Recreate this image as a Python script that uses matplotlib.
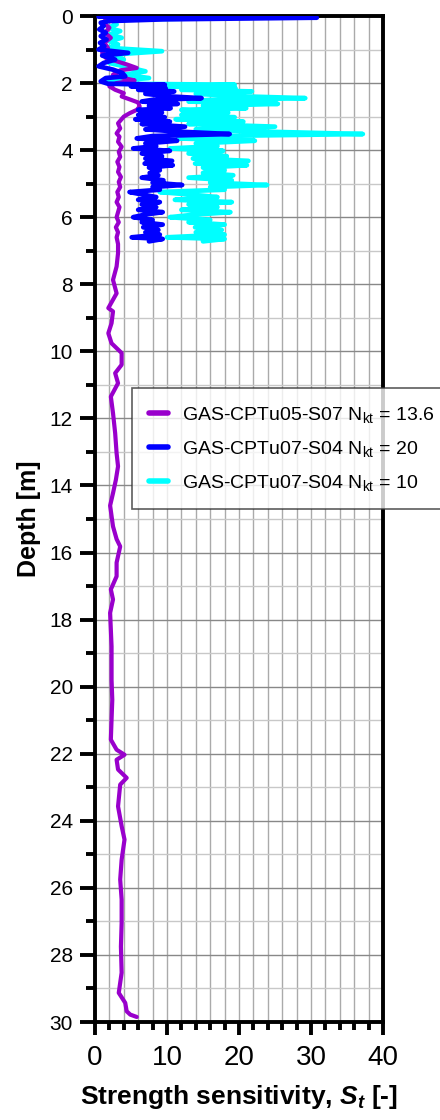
import matplotlib
matplotlib.use('Agg')
from matplotlib import pyplot as plt
from matplotlib.ticker import MultipleLocator

plt.rcParams['font.family'] = ['Liberation Sans', 'DejaVu Sans']
plt.rcParams['mathtext.fontset'] = 'custom'
plt.rcParams['mathtext.rm'] = 'Liberation Sans'
plt.rcParams['mathtext.it'] = 'Liberation Sans:italic:bold'
plt.rcParams['mathtext.bf'] = 'Liberation Sans:bold'

# GAS-CPTu05-S07, Nkt = 13.6
depth_s07 = [0.10, 0.20, 0.35, 0.50, 0.65, 0.80, 0.95, 1.10, 1.25, 1.35, 1.45, 1.55, 1.62, 1.75,
             1.85, 1.92, 2.00, 2.10, 2.20, 2.30, 2.40, 2.50, 2.58, 2.70, 2.80, 2.90, 3.00, 3.10,
             3.20, 3.35, 3.50, 3.60, 3.75, 3.90, 4.05, 4.20, 4.35, 4.50, 4.65, 4.80, 4.95, 5.10,
             5.25, 5.40, 5.55, 5.70, 5.85, 6.00, 6.15, 6.30, 6.45, 6.60, 6.80, 7.07, 7.47, 7.87,
             8.27, 8.71, 8.81, 9.16, 9.46, 9.76, 10.05, 10.40, 10.65, 10.95, 11.35, 11.84, 12.44,
             13.04, 13.43, 13.83, 14.23, 14.60, 15.22, 15.60, 15.82, 16.30, 16.71, 17.10, 17.40,
             17.80, 18.80, 19.80, 20.39, 20.98, 21.58, 21.88, 22.03, 22.18, 22.47, 22.72, 22.92,
             23.57, 24.16, 24.56, 25.16, 25.75, 26.35, 27.05, 27.75, 28.53, 29.13, 29.43, 29.68,
             29.78, 29.85]
st_s07 = [1.5, 1.2, 2.0, 1.4, 2.2, 1.3, 1.8, 1.0, 1.5, 3.0, 4.5, 5.8, 3.5, 2.5,
          4.0, 5.5, 3.0, 2.0, 2.8, 4.0, 3.7, 5.0, 6.0, 6.2, 5.8, 4.8, 4.0, 3.6,
          3.2, 3.5, 3.0, 3.4, 3.2, 3.7, 3.3, 3.5, 3.1, 3.4, 3.2, 3.6, 3.3, 3.5,
          3.1, 3.3, 3.0, 3.4, 3.2, 3.0, 3.3, 2.9, 3.2, 3.0, 3.2, 3.2, 3.0, 2.5,
          3.0, 1.85, 2.5, 2.3, 1.85, 2.3, 3.7, 3.7, 2.8, 3.2, 2.2, 2.5, 2.8,
          3.0, 3.2, 2.9, 2.5, 2.1, 2.5, 3.0, 3.5, 3.0, 3.0, 2.2, 2.5,
          2.1, 2.3, 2.3, 2.4, 2.3, 2.2, 3.0, 4.1, 3.0, 3.2, 4.4, 3.5,
          3.2, 3.7, 4.1, 3.7, 3.5, 3.7, 3.7, 3.6, 3.7, 3.3, 4.2, 4.4,
          4.9, 5.8]

# GAS-CPTu07-S04, Nkt = 20
depth_s04_20 = [0.02, 0.05, 0.10, 0.15, 0.20, 0.30, 0.40, 0.50, 0.60, 0.70, 0.80, 0.90, 1.00,
                1.10, 1.18, 1.30, 1.40, 1.50, 1.60, 1.70, 1.80, 1.85, 1.95, 2.02, 2.05, 2.10,
                2.15, 2.20, 2.25, 2.32, 2.40, 2.45, 2.50, 2.55, 2.62, 2.68, 2.75, 2.80, 2.88,
                2.95, 3.02, 3.08, 3.15, 3.22, 3.30, 3.38, 3.45, 3.52, 3.58, 3.65, 3.72, 3.80,
                3.88, 3.95, 4.02, 4.10, 4.18, 4.25, 4.32, 4.40, 4.45, 4.52, 4.60, 4.68, 4.75,
                4.82, 4.90, 4.97, 5.04, 5.10, 5.18, 5.25, 5.32, 5.40, 5.48, 5.55, 5.62, 5.70,
                5.78, 5.85, 5.92, 6.00, 6.08, 6.15, 6.22, 6.30, 6.38, 6.45, 6.52, 6.60, 6.65,
                6.72]
st_s04_20 = [0.5, 30.8, 9.5, 2.0, 0.8, 1.2, 0.6, 1.5, 0.8, 1.6, 0.7, 1.3, 0.5,
             4.6, 1.0, 2.8, 1.2, 0.5, 2.5, 3.8, 4.2, 1.5, 0.8, 1.8, 9.7, 5.0,
             9.8, 6.0, 11.0, 7.0, 10.5, 14.8, 8.0, 6.5, 11.5, 7.5, 10.5, 6.0, 9.3,
             6.0, 9.7, 5.6, 10.4, 6.5, 12.5, 7.0, 11.8, 18.7, 8.0, 5.8, 11.4, 7.0,
             8.5, 5.3, 10.4, 6.5, 9.3, 7.0, 10.7, 6.9, 10.8, 7.5, 9.0, 7.6, 8.8,
             6.5, 9.5, 8.0, 12.1, 8.0, 9.0, 4.8, 6.5, 8.5, 6.0, 9.0, 6.5, 8.5,
             6.0, 9.4, 7.0, 5.3, 8.0, 6.5, 9.4, 6.7, 8.8, 7.0, 9.0, 5.1, 9.4,
             7.5]

# GAS-CPTu07-S04, Nkt = 10
depth_s04_10 = [0.02, 0.06, 0.10, 0.15, 0.25, 0.35, 0.45, 0.55, 0.65, 0.75, 0.85, 0.95, 1.05,
                1.15, 1.30, 1.40, 1.55, 1.65, 1.75, 1.85, 1.95, 2.02, 2.05, 2.10, 2.15, 2.20,
                2.25, 2.32, 2.40, 2.45, 2.50, 2.55, 2.62, 2.68, 2.75, 2.80, 2.88, 2.95, 3.02,
                3.08, 3.15, 3.22, 3.30, 3.38, 3.45, 3.52, 3.58, 3.65, 3.72, 3.80, 3.88, 3.95,
                4.02, 4.10, 4.18, 4.25, 4.32, 4.40, 4.45, 4.52, 4.60, 4.68, 4.75, 4.82, 4.90,
                4.97, 5.04, 5.10, 5.18, 5.25, 5.32, 5.40, 5.48, 5.55, 5.62, 5.70, 5.78, 5.85,
                5.92, 6.00, 6.08, 6.15, 6.22, 6.30, 6.38, 6.45, 6.52, 6.60, 6.65, 6.72]
st_s04_10 = [1.0, 19.0, 5.0, 2.5, 3.0, 1.8, 3.5, 2.0, 3.7, 2.0, 3.2, 1.8, 9.3,
             2.5, 4.0, 2.0, 5.0, 7.0, 4.0, 7.5, 1.7, 3.5, 19.4, 10.0, 19.5, 12.0,
             21.8, 14.0, 21.0, 29.2, 16.0, 13.0, 25.4, 15.0, 21.0, 12.0, 18.5, 12.0, 19.4,
             11.2, 20.6, 13.0, 25.0, 14.0, 23.6, 37.2, 16.0, 11.5, 22.2, 14.0, 17.0, 10.4,
             17.8, 13.0, 18.3, 13.6, 21.3, 13.9, 21.1, 15.0, 18.0, 15.0, 19.2, 13.0, 19.0,
             16.0, 23.9, 16.0, 18.0, 9.0, 13.0, 17.0, 11.1, 19.0, 13.0, 17.0, 12.0, 18.8,
             14.0, 10.4, 16.0, 13.0, 18.0, 13.9, 17.6, 14.0, 18.0, 10.0, 18.0, 15.0]

fig = plt.figure(figsize=(4.4, 11.2), dpi=100)
ax = fig.add_axes([95/440, 1-1022/1120, 288/440, 1006/1120])

ax.plot(st_s04_10, depth_s04_10, color='#00ffff', lw=3.4, zorder=3, solid_capstyle='round',
        label=r'GAS-CPTu07-S04 N$_\mathregular{kt}$ = 10')
ax.plot(st_s07, depth_s07, color='#9900cc', lw=3.0, zorder=4, solid_capstyle='round',
        label=r'GAS-CPTu05-S07 N$_\mathregular{kt}$ = 13.6')
ax.plot(st_s04_20, depth_s04_20, color='#0000ff', lw=3.4, zorder=5, solid_capstyle='round',
        label=r'GAS-CPTu07-S04 N$_\mathregular{kt}$ = 20')

ax.set_xlim(0, 40)
ax.set_ylim(30, 0)
ax.xaxis.set_major_locator(MultipleLocator(10))
ax.xaxis.set_minor_locator(MultipleLocator(2))
ax.yaxis.set_major_locator(MultipleLocator(2))
ax.yaxis.set_minor_locator(MultipleLocator(1))

# grid
ax.grid(which='minor', axis='y', color='#c8c8c8', lw=1.0)
ax.grid(which='major', axis='y', color='#888888', lw=1.0)
ax.grid(which='both', axis='x', color='#aaaaaa', lw=1.0)
ax.set_axisbelow(True)

for s in ax.spines.values():
    s.set_linewidth(2.8)
ax.tick_params(axis='y', which='major', length=11, width=2.8, labelsize=15, pad=5)
ax.tick_params(axis='y', which='minor', length=6.5, width=2.8)
ax.tick_params(axis='x', which='major', length=9.5, width=2.8, labelsize=20, pad=7)
ax.tick_params(axis='x', which='minor', length=6, width=2.8)

ax.set_ylabel('Depth [m]', fontsize=18, fontweight='bold', labelpad=6)
ax.set_xlabel(r'Strength sensitivity, $S_t$ [-]', fontsize=19, fontweight='bold', labelpad=9)

h, l = ax.get_legend_handles_labels()
order = [1, 2, 0]
leg = fig.legend([h[i] for i in order], [l[i] for i in order], loc='upper left',
                 bbox_to_anchor=(132/440, 1-388/1120), borderaxespad=0, fontsize=14,
                 frameon=True, fancybox=False, edgecolor='#333333', handlelength=1.0,
                 handletextpad=0.7, borderpad=0.85, labelspacing=0.72)
leg.get_frame().set_linewidth(1.2)
for ln in leg.get_lines():
    ln.set_linewidth(4)

fig.savefig('out.png', dpi=100)
